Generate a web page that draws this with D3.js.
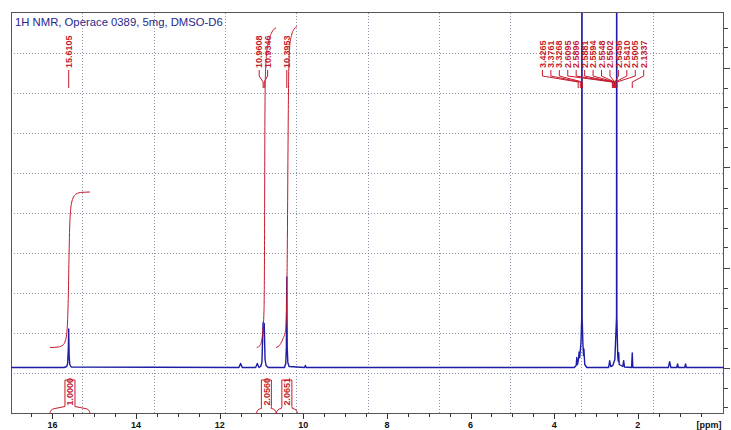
<!DOCTYPE html>
<html><head><meta charset="utf-8">
<script src="https://cdn.jsdelivr.net/npm/d3@7"></script>
<style>html,body{margin:0;padding:0;background:#fff;} svg{display:block;}</style>
</head><body><svg id="c" width="731" height="430"></svg>
<script>
// ---------- data ----------
const title = "1H NMR, Operace 0389, 5mg, DMSO-D6";
const axisLabel = "[ppm]";
// spectrum trace (ppm, intensity)
const specPpm = [16.99, 15.72, 15.66, 15.635, 15.618, 15.6105, 15.60, 15.585, 15.55,
  11.54, 11.50, 11.46, 11.14, 11.10, 11.06, 11.02, 10.99, 10.9608, 10.948, 10.9346, 10.915, 10.89, 10.84,
  10.45, 10.42, 10.405, 10.3953, 10.385, 10.37, 10.34, 9.97, 9.95, 9.93,
  3.52, 3.475, 3.46, 3.445, 3.42, 3.405, 3.39, 3.36, 3.342, 3.337, 3.332, 3.315, 3.30, 3.29, 3.27, 3.22,
  2.70, 2.673, 2.65, 2.60, 2.55, 2.51, 2.506, 2.502, 2.48, 2.465, 2.458, 2.445, 2.36, 2.339, 2.32,
  2.15, 2.134, 2.12, 1.27, 1.24, 1.21, 1.07, 1.05, 1.03, 0.88, 0.86, 0.84, -0.06];
const specInt = [0, 0, 0.01, 0.04, 0.2, 0.385, 0.12, 0.03, 0.005,
  0, 0.04, 0, 0, 0.04, 0, 0.01, 0.05, 0.45, 0.40, 0.44, 0.08, 0.02, 0,
  0, 0.04, 0.2, 0.905, 0.2, 0.05, 0.01, 0, 0.02, 0,
  0, 0.02, 0.10, 0.03, 0.08, 0.155, 0.10, 0.25, 0.5, 8, 0.5, 0.25, 0.12, 0.185, 0.03, 0,
  0, 0.068, 0.01, 0.02, 0.08, 0.5, 8, 0.5, 0.1, 0.06, 0.148, 0.03, 0.01, 0.068, 0.005,
  0, 0.145, 0, 0, 0.058, 0, 0, 0.035, 0, 0, 0.035, 0, 0];
// peak picking labels
const peakPpm = [15.6105, 10.9608, 10.9346, 10.3953, 3.4265, 3.3761, 3.3268, 2.6095, 2.5896,
  2.5881, 2.5594, 2.5548, 2.5502, 2.5456, 2.5410, 2.5005, 2.1337];
// integrals
const intFrom = [16.06, 11.12, 10.646];
const intTo = [15.10, 10.646, 10.14];
const intValues = [1.0000, 2.0560, 2.0651];
const intCurvePpm = [
  [16.056, 15.865, 15.746, 15.674, 15.638, 15.619, 15.602, 15.578, 15.531, 15.436, 15.292, 15.101],
  [11.114, 11.035, 10.971, 10.940, 10.928, 10.921, 10.909, 10.880, 10.832, 10.760, 10.653],
  [10.653, 10.557, 10.485, 10.425, 10.399, 10.383, 10.366, 10.351, 10.330, 10.282, 10.222, 10.150]];
const intCurveFrac = [
  [0, 0.003, 0.016, 0.061, 0.164, 0.338, 0.595, 0.833, 0.942, 0.987, 0.998, 1],
  [0, 0.006, 0.047, 0.116, 0.304, 0.618, 0.837, 0.915, 0.956, 0.984, 1],
  [0, 0.009, 0.028, 0.053, 0.132, 0.304, 0.618, 0.837, 0.931, 0.972, 0.991, 1]];
// axis ticks
const majorTicks = [16, 14, 12, 10, 8, 6, 4, 2];
const minorTicks = d3.range(33).map(i => 16.5 - i * 0.5).filter(v => v > 0);
const rightTicks = d3.range(-2, 18).map(i => +(i * 0.2).toFixed(1));

// ---------- layout ----------
const P = {l: 11, t: 13, r: 724, b: 413};
const RED = "#c41a2c", BLUE = "#1d1da6", GRID = "#8e97aa";
const FONT = "'Liberation Sans', Arial, sans-serif";
const svg = d3.select("#c");
const x = d3.scaleLinear().domain([16.99, -0.06]).range([P.l, P.r]);
const y = d3.scaleLinear().domain([-0.455, 3.545]).range([P.b, P.t]);
const yI = d3.scaleLinear().domain([0, 1]).range([347.5, 192]);

svg.append("defs").append("clipPath").attr("id", "pc")
  .append("rect").attr("x", P.l).attr("y", P.t).attr("width", P.r - P.l).attr("height", P.b - P.t);

// grid (10 x 10 divisions)
const g = svg.append("g");
for (let k = 1; k < 10; k++) {
  const gx = P.l + (P.r - P.l) * k / 10, gy = P.t + (P.b - P.t) * k / 10;
  g.append("line").attr("x1", Math.round(gx) + 0.5).attr("x2", Math.round(gx) + 0.5).attr("y1", P.t).attr("y2", P.b)
    .attr("stroke", GRID).attr("stroke-dasharray", "1,2");
  g.append("line").attr("y1", Math.round(gy) + 0.5).attr("y2", Math.round(gy) + 0.5).attr("x1", P.l).attr("x2", P.r)
    .attr("stroke", GRID).attr("stroke-dasharray", "1,2");
}

// frame
svg.append("rect").attr("x", P.l + 0.5).attr("y", P.t - 0.5).attr("width", P.r - P.l - 1).attr("height", P.b - P.t + 1)
  .attr("fill", "none").attr("stroke", "#555").attr("stroke-width", 1);

// bottom ticks
const ax = svg.append("g").attr("font-family", FONT);
minorTicks.forEach(v => {
  const isMajor = majorTicks.includes(v);
  const tx = Math.round(x(v)) + 0.5;
  ax.append("line").attr("x1", tx).attr("x2", tx).attr("y1", P.b + 0.5).attr("y2", P.b + (isMajor ? 6 : 4))
    .attr("stroke", "#333");
});
majorTicks.forEach(v => {
  ax.append("text").attr("x", x(v)).attr("y", 428).attr("text-anchor", "middle")
    .attr("font-size", 9).attr("font-weight", "bold").attr("fill", "#111").text(v);
});
ax.append("text").attr("x", 709).attr("y", 428).attr("text-anchor", "middle")
  .attr("font-size", 9).attr("font-weight", "bold").attr("fill", "#111").text(axisLabel);

// right ticks
rightTicks.forEach(v => {
  const ty = y(v);
  if (ty < P.t || ty > P.b) return;
  const isMajor = Math.abs(v - Math.round(v)) < 1e-6;
  svg.append("line").attr("x1", P.r).attr("x2", P.r + (isMajor ? 6 : 4))
    .attr("y1", Math.round(ty) + 0.5).attr("y2", Math.round(ty) + 0.5).attr("stroke", "#444");
});

// title
svg.append("text").attr("x", 15).attr("y", 26).attr("font-family", FONT).attr("font-size", 11.3)
  .attr("fill", "#26268e").text(title);

// spectrum
const spec = specPpm.map((p, i) => ({p, v: specInt[i]}));
svg.append("path").datum(spec).attr("clip-path", "url(#pc)")
  .attr("d", d3.line().x(d => x(d.p)).y(d => y(d.v)))
  .attr("fill", "none").attr("stroke", BLUE).attr("stroke-width", 1.4).attr("stroke-linejoin", "round");

// integral curves
intCurvePpm.forEach((arr, k) => {
  const pts = arr.map((p, i) => ({p, f: intCurveFrac[k][i] * intValues[k]}));
  svg.append("path").datum(pts)
    .attr("d", d3.line().curve(d3.curveMonotoneX).x(d => x(d.p)).y(d => yI(d.f)))
    .attr("fill", "none").attr("stroke", RED).attr("stroke-width", 1);
});

// integral brackets + labels
intValues.forEach((val, k) => {
  const x1 = x(intFrom[k]), x2 = x(intTo[k]), xm = (x1 + x2) / 2;
  const yb = P.b + 0.5;
  const path = `M${x1},${yb} C${x1 + 0.5},${yb - 3} ${x1 + 1.5},${yb - 4.5} ${x1 + 5},${yb - 5} L${xm - 5},${yb - 7}
    L${xm - 5},380 L${xm + 5},380 L${xm + 5},${yb - 7} L${x2 - 5},${yb - 5} C${x2 - 1.5},${yb - 4.5} ${x2 - 0.5},${yb - 3} ${x2},${yb}`;
  svg.append("path").attr("d", path).attr("fill", "none").attr("stroke", RED).attr("stroke-width", 1);
  svg.append("text").attr("transform", `translate(${xm},${yb - 8}) rotate(-90)`)
    .attr("dy", "0.35em").attr("font-family", FONT).attr("font-size", 9).attr("font-weight", "bold")
    .attr("fill", RED).text(val.toFixed(4));
});

// peak labels with de-overlap
const gap = 8.44;
let cl = peakPpm.map((p, i) => ({idx: [i], ideal: [x(p)]}));
function place(c) {
  const n = c.ideal.length;
  const center = (d3.mean(c.ideal) + d3.min(c.ideal)) / 2;
  c.start = center - (n - 1) * gap / 2;
}
cl.forEach(place);
let merged = true;
while (merged) {
  merged = false;
  for (let i = 0; i < cl.length - 1; i++) {
    const a = cl[i], b = cl[i + 1];
    if (a.start + a.ideal.length * gap > b.start) {
      const m = {idx: a.idx.concat(b.idx), ideal: a.ideal.concat(b.ideal)};
      place(m);
      cl.splice(i, 2, m);
      merged = true;
      break;
    }
  }
}
cl.forEach(c => {
  c.idx.forEach((pi, j) => {
    const lx = c.start + j * gap, px = x(peakPpm[pi]);
    svg.append("path").attr("d", `M${lx},70 L${lx},76 L${px},82 L${px},88`)
      .attr("fill", "none").attr("stroke", RED).attr("stroke-width", 1);
    svg.append("text").attr("transform", `translate(${lx},68) rotate(-90)`)
      .attr("dy", "0.35em").attr("font-family", FONT).attr("font-size", 9).attr("font-weight", "bold")
      .attr("fill", RED).text(peakPpm[pi].toFixed(4));
  });
});
</script></body></html>
